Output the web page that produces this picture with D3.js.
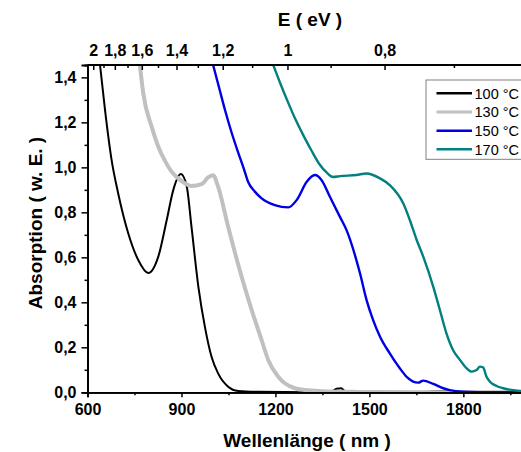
<!DOCTYPE html>
<html>
<head>
<meta charset="utf-8">
<script src="https://cdn.jsdelivr.net/npm/d3@7"></script>
<style>
  body { margin: 0; background: #fff; }
  svg { display: block; font-family: "Liberation Sans", Arial, sans-serif; }
</style>
</head>
<body>
<svg id="chart" width="521" height="452"></svg>
<script>
// ---- data (wavelength nm, absorption a.u.) ----
const seriesLabels = ["100 °C", "130 °C", "150 °C", "170 °C"];
const seriesColors = ["#000000", "#c0c0c0", "#0000e6", "#008080"];
const seriesWidths = [2, 4, 2.4, 2.4];

const wl100  = [625, 640, 656, 677, 698, 730, 762, 794, 826, 853, 874, 898, 917, 932, 954, 975, 996, 1017, 1049, 1081, 1150, 1300, 1380, 1395, 1410, 1420, 1440, 1600, 1690, 1720, 1760, 1800, 2000];
const abs100 = [1.62, 1.455, 1.254, 1.032, 0.884, 0.707, 0.588, 0.530, 0.603, 0.766, 0.900, 0.970, 0.914, 0.736, 0.469, 0.290, 0.158, 0.084, 0.025, 0.006, 0.002, 0.0, 0.004, 0.016, 0.018, 0.007, 0.002, 0.0, 0.003, 0.006, 0.005, 0.001, 0.0];

const wl130  = [755, 767, 778, 805, 826, 847, 869, 890, 911, 932, 964, 985, 1001, 1017, 1049, 1092, 1124, 1156, 1177, 1209, 1230, 1262, 1294, 1350, 1450, 1500, 2000];
const abs130 = [1.58, 1.455, 1.329, 1.180, 1.092, 1.030, 0.980, 0.951, 0.929, 0.917, 0.925, 0.955, 0.965, 0.914, 0.736, 0.514, 0.366, 0.232, 0.144, 0.069, 0.040, 0.018, 0.010, 0.005, 0.002, 0.001, 0.0];

const wl150  = [985, 1001, 1020, 1039, 1060, 1080, 1100, 1113, 1135, 1156, 1198, 1241, 1268, 1300, 1326, 1347, 1374, 1406, 1427, 1470, 1491, 1512, 1534, 1565, 1597, 1619, 1656, 1672, 1704, 1736, 1757, 1799, 1850, 2000];
const abs150 = [1.54, 1.455, 1.355, 1.255, 1.155, 1.070, 0.990, 0.935, 0.891, 0.862, 0.832, 0.822, 0.855, 0.936, 0.966, 0.944, 0.869, 0.780, 0.721, 0.529, 0.410, 0.321, 0.247, 0.173, 0.107, 0.069, 0.043, 0.052, 0.037, 0.018, 0.010, 0.003, 0.001, 0.0];

const wl170  = [1175, 1193, 1215, 1240, 1265, 1290, 1315, 1340, 1365, 1384, 1406, 1459, 1491, 1534, 1565, 1608, 1629, 1651, 1672, 1704, 1725, 1746, 1767, 1789, 1810, 1826, 1842, 1853, 1863, 1874, 1885, 1906, 1927, 1980, 2000];
const abs170 = [1.52, 1.455, 1.375, 1.290, 1.210, 1.140, 1.075, 1.015, 0.975, 0.957, 0.961, 0.966, 0.973, 0.951, 0.921, 0.840, 0.766, 0.677, 0.603, 0.469, 0.366, 0.262, 0.188, 0.144, 0.107, 0.092, 0.099, 0.114, 0.111, 0.069, 0.047, 0.028, 0.018, 0.006, 0.004];

const xTicksMajor = [600, 900, 1200, 1500, 1800];
const xTicksMinor = [750, 1050, 1350, 1650, 1950];
const yTicksMajor = [0, 0.2, 0.4, 0.6, 0.8, 1.0, 1.2, 1.4];
const yTicksMinor = [0.1, 0.3, 0.5, 0.7, 0.9, 1.1, 1.3];
const eTicksMajor = [2, 1.8, 1.6, 1.4, 1.2, 1.0, 0.8];
const eTickLabels = ["2", "1,8", "1,6", "1,4", "1,2", "1", "0,8"];
const eTicksMinor = [1.9, 1.7, 1.5, 1.3, 1.1, 0.9, 0.7];

// ---- layout ----
const svg = d3.select("#chart");
const L = 87.5, R = 526, T = 65, B = 392.3;
const x = d3.scaleLinear().domain([600, 2000]).range([L, R]);
const y = d3.scaleLinear().domain([0, 1.455]).range([B, T]);
const comma = v => d3.format(".1f")(v).replace(".", ",");

svg.append("defs").append("clipPath").attr("id", "clip")
  .append("rect").attr("x", L).attr("y", T).attr("width", R - L).attr("height", B - T + 2);

// curves
const series = [[wl100, abs100], [wl130, abs130], [wl150, abs150], [wl170, abs170]];
const line = d3.line().x(d => x(d[0])).y(d => y(d[1])).curve(d3.curveMonotoneX);
const gLines = svg.append("g").attr("clip-path", "url(#clip)");
series.forEach(([wl, ab], i) => {
  gLines.append("path")
    .datum(wl.map((w, k) => [w, ab[k]]))
    .attr("fill", "none")
    .attr("stroke", seriesColors[i])
    .attr("stroke-width", seriesWidths[i])
    .attr("stroke-linejoin", "round")
    .attr("d", line);
});

// bottom axis
svg.append("g").attr("transform", `translate(0,${B})`)
  .call(d3.axisBottom(x).tickValues(xTicksMajor).tickSize(5).tickPadding(6).tickFormat(d3.format("d")));
svg.append("g").attr("transform", `translate(0,${B})`)
  .call(d3.axisBottom(x).tickValues(xTicksMinor).tickSize(3).tickFormat(""));

// left axis
svg.append("g").attr("transform", `translate(${L},0)`)
  .call(d3.axisLeft(y).tickValues(yTicksMajor).tickSize(6).tickPadding(5).tickFormat(comma));
svg.append("g").attr("transform", `translate(${L},0)`)
  .call(d3.axisLeft(y).tickValues(yTicksMinor).tickSize(3).tickFormat(""));

// top axis (energy, E = 1240 / lambda), ticks inward
const xE = e => x(1240 / e);
const gTop = svg.append("g").attr("class", "topaxis");
gTop.append("line").attr("x1", L).attr("x2", R).attr("y1", T).attr("y2", T)
  .attr("stroke", "#000");
gTop.selectAll("line.maj").data(eTicksMajor).join("line").attr("class", "maj")
  .attr("x1", d => xE(d)).attr("x2", d => xE(d)).attr("y1", T).attr("y2", T + 5).attr("stroke", "#000");
gTop.selectAll("line.min").data(eTicksMinor).join("line").attr("class", "min")
  .attr("x1", d => xE(d)).attr("x2", d => xE(d)).attr("y1", T).attr("y2", T + 3).attr("stroke", "#000");
gTop.selectAll("text").data(eTicksMajor).join("text")
  .attr("x", d => xE(d)).attr("y", 56).attr("text-anchor", "middle")
  .attr("font-size", 16).attr("font-weight", "bold").text((d, i) => eTickLabels[i]);

// right frame (mostly off-canvas)
svg.append("line").attr("x1", R).attr("x2", R).attr("y1", T).attr("y2", B).attr("stroke", "#000");

// axis styling
svg.selectAll(".domain").attr("stroke", "#000").attr("stroke-width", 1.8);
gTop.selectAll("line").attr("stroke-width", 1.5);
gTop.select("line").attr("stroke-width", 1.8);
svg.selectAll(".tick line").attr("stroke", "#000").attr("stroke-width", 1.5);
svg.selectAll(".tick text").attr("font-size", 16).attr("font-weight", "bold")
  .attr("fill", "#000").attr("font-family", "Liberation Sans, Arial, sans-serif");

// titles
svg.append("text").attr("x", 307).attr("y", 446.5).attr("text-anchor", "middle")
  .attr("font-size", 19).attr("font-weight", "bold").text("Wellenlänge ( nm )");
svg.append("text").attr("x", 310).attr("y", 26).attr("text-anchor", "middle")
  .attr("font-size", 19).attr("font-weight", "bold").text("E ( eV )");
svg.append("text").attr("transform", "translate(42,223) rotate(-90)").attr("text-anchor", "middle")
  .attr("font-size", 19).attr("font-weight", "bold").text("Absorption ( w. E. )");

// legend
const lg = svg.append("g");
lg.append("rect").attr("x", 426).attr("y", 80).attr("width", 110).attr("height", 79.3)
  .attr("fill", "#fff").attr("stroke", "#808080").attr("stroke-width", 1);
const legY = [93.3, 112, 130.7, 149.3];
seriesLabels.forEach((s, i) => {
  lg.append("line").attr("x1", 436.5).attr("x2", 472).attr("y1", legY[i]).attr("y2", legY[i])
    .attr("stroke", seriesColors[i]).attr("stroke-width", i === 1 ? 3 : 2.4);
  lg.append("text").attr("x", 474.5).attr("y", legY[i]).attr("dy", "0.36em")
    .attr("font-size", 14.5).attr("fill", "#000").text(s);
});
</script>
</body>
</html>
